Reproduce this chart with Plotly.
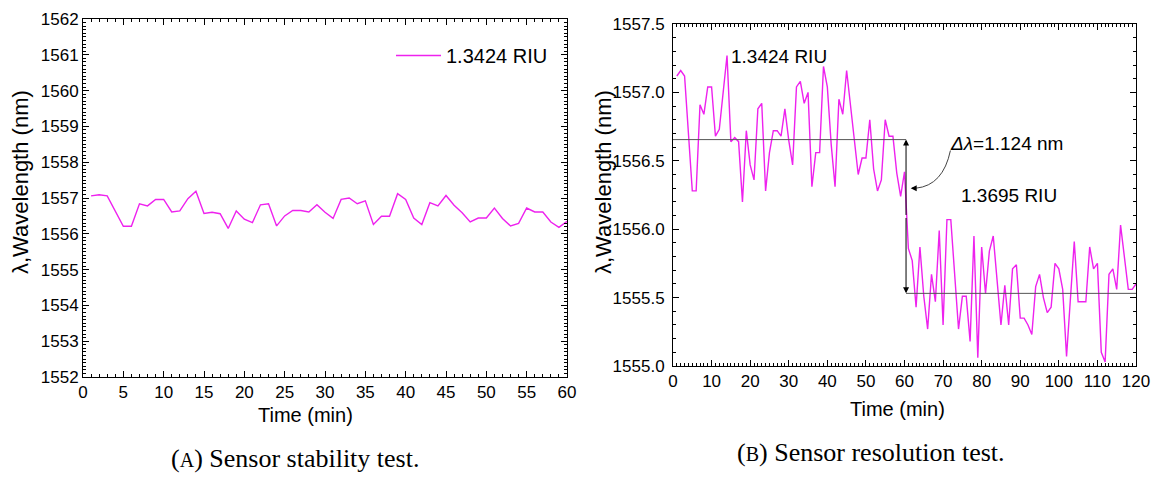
import plotly.graph_objects as go

# ---------------- data ----------------
# (A) stability test: time (min) and wavelength (nm)
t_a = [1, 2, 3, 5, 6, 7, 8, 9, 10, 11, 12, 13, 14, 15, 16, 17, 18, 19, 20,
       21, 22, 23, 24, 25, 26, 27, 28, 29, 30, 31, 32, 33, 34, 35, 36, 37, 38,
       39, 40, 41, 42, 43, 44, 45, 46, 47, 48, 49, 50, 51, 52, 53, 54, 55, 56,
       57, 58, 59, 60]
w_a = [1557.06, 1557.09, 1557.06, 1556.21, 1556.21, 1556.84, 1556.78, 1556.96,
       1556.96, 1556.61, 1556.64, 1556.98, 1557.19, 1556.57, 1556.60, 1556.56,
       1556.15, 1556.64, 1556.41, 1556.31, 1556.81, 1556.84, 1556.22, 1556.50,
       1556.65, 1556.65, 1556.61, 1556.81, 1556.60, 1556.43, 1556.96, 1557.00,
       1556.84, 1556.92, 1556.26, 1556.49, 1556.49, 1557.12, 1556.96, 1556.44,
       1556.26, 1556.87, 1556.78, 1557.07, 1556.80, 1556.59, 1556.33, 1556.44,
       1556.44, 1556.72, 1556.43, 1556.22, 1556.29, 1556.72, 1556.61, 1556.61,
       1556.33, 1556.18, 1556.35]

# (B) resolution test
t_b = [1, 2, 3, 5, 6, 7, 8, 9, 10, 11, 12, 14, 15, 16, 17, 18, 19, 20, 21, 22,
       23, 24, 25, 26, 27, 28, 29, 30, 31, 32, 33, 34, 35, 36, 37, 38, 39, 40,
       41, 42, 43, 44, 45, 46, 47, 48, 49, 50, 51, 52, 53, 54, 55, 56, 57, 58,
       59, 60, 61, 62, 63, 64, 65, 66, 67, 68, 69, 70, 71, 72, 74, 75, 76, 77,
       78, 79, 80, 81, 82, 83, 85, 86, 87, 88, 89, 90, 91, 92, 93, 94, 95, 96,
       97, 98, 99, 100, 101, 102, 104, 105, 107, 108, 109, 110, 111, 112, 113,
       114, 115, 116, 118, 119, 120]
w_b = [1557.12, 1557.16, 1557.12, 1556.28, 1556.28, 1556.91, 1556.84, 1557.04,
       1557.04, 1556.68, 1556.73, 1557.27, 1556.64, 1556.67, 1556.64, 1556.20,
       1556.72, 1556.47, 1556.36, 1556.88, 1556.92, 1556.28, 1556.56, 1556.72,
       1556.72, 1556.68, 1556.88, 1556.65, 1556.47, 1557.04, 1557.08, 1556.92,
       1557.00, 1556.31, 1556.56, 1556.56, 1557.19, 1557.04, 1556.62, 1556.31,
       1556.95, 1556.84, 1557.16, 1556.90, 1556.67, 1556.40, 1556.52, 1556.52,
       1556.80, 1556.44, 1556.28, 1556.36, 1556.80, 1556.68, 1556.68, 1556.41,
       1556.24, 1556.42, 1555.86, 1555.77, 1555.43, 1555.87, 1555.51, 1555.27,
       1555.67, 1555.47, 1555.99, 1555.30, 1556.07, 1556.07, 1555.27, 1555.51,
       1555.51, 1555.18, 1555.95, 1555.06, 1555.87, 1555.53, 1555.84, 1555.95,
       1555.30, 1555.59, 1555.30, 1555.71, 1555.74, 1555.35, 1555.35, 1555.30,
       1555.23, 1555.58, 1555.67, 1555.50, 1555.39, 1555.43, 1555.75, 1555.71,
       1555.56, 1555.07, 1555.91, 1555.47, 1555.47, 1555.87, 1555.71, 1555.75,
       1555.10, 1555.03, 1555.67, 1555.71, 1555.56, 1556.03, 1555.56, 1555.56,
       1555.60]

level_hi = 1556.655      # mean level at 1.3424 RIU
level_lo = 1555.531      # mean level at 1.3695 RIU
t_step = 60.4            # time of the index change
label_a = "1.3424 RIU"
label_b = "1.3695 RIU"
delta_text = "<i>Δλ</i>=1.124 nm"

# ---------------- layout helpers ----------------
W, H = 1162, 477
def px(x):
    return x / W
def py(y):
    return 1 - y / H

LINE_COLOR = "#EE22EE"
FONT = "Liberation Sans"

fig = go.Figure()
fig.add_trace(go.Scatter(x=t_a, y=w_a, mode="lines", name=label_a,
                         line=dict(color=LINE_COLOR, width=1.4),
                         xaxis="x", yaxis="y", showlegend=True))
fig.add_trace(go.Scatter(x=t_b, y=w_b, mode="lines", name=label_b,
                         line=dict(color=LINE_COLOR, width=1.4),
                         xaxis="x2", yaxis="y2", showlegend=False))

axis_common = dict(showline=True, linecolor="black", linewidth=1, mirror="allticks",
                   ticks="inside", ticklen=6, tickcolor="black", tickwidth=1,
                   showgrid=False, zeroline=False, automargin=False,
                   tickfont=dict(family=FONT, size=17, color="black"))

fig.update_layout(
    width=W, height=H, margin=dict(l=0, r=0, t=0, b=0),
    paper_bgcolor="white", plot_bgcolor="white",
    font=dict(family=FONT, color="black"),
    xaxis=dict(domain=[px(83), px(567)], range=[0, 60], dtick=5, anchor="y",
               minor=dict(ticks="inside", ticklen=3, dtick=1, tickcolor="black"),
               **axis_common),
    yaxis=dict(domain=[py(377), py(19)], range=[1552, 1562], dtick=1, anchor="x",
               minor=dict(ticks="inside", ticklen=3, dtick=0.1, tickcolor="black"),
               **axis_common),
    xaxis2=dict(domain=[px(673), px(1136)], range=[0, 120], dtick=10, anchor="y2",
                minor=dict(ticks="inside", ticklen=3, dtick=1, tickcolor="black"),
                **axis_common),
    yaxis2=dict(domain=[py(366), py(24)], range=[1555, 1557.5], dtick=0.5,
                tickformat=".1f", anchor="x2", ticklabelstandoff=4,
                minor=dict(ticks="inside", ticklen=3, dtick=0.1, tickcolor="black"),
                **axis_common),
    legend=dict(x=px(391), y=py(36), xanchor="left", yanchor="top",
                bgcolor="rgba(0,0,0,0)", font=dict(family=FONT, size=20),
                itemwidth=45),
)

# reference level lines (right panel)
fig.add_shape(type="line", xref="x2", yref="y2", x0=0, x1=t_step,
              y0=level_hi, y1=level_hi, line=dict(color="#555555", width=1))
fig.add_shape(type="line", xref="x2", yref="y2", x0=t_step, x1=120,
              y0=level_lo, y1=level_lo, line=dict(color="#555555", width=1))

# vertical double arrow
mid = (level_hi + level_lo) / 2
for target in (level_hi, level_lo):
    fig.add_annotation(xref="x2", yref="y2", axref="x2", ayref="y2",
                       x=t_step, y=target, ax=t_step, ay=mid, text="",
                       showarrow=True, arrowhead=2, arrowsize=1.2, arrowwidth=1,
                       arrowcolor="black", standoff=0)

# curved pointer from the delta label
fig.add_shape(type="path", xref="x2", yref="y2",
              path="M 71.9,1556.575 Q 70.0,1556.32 63.0,1556.30",
              line=dict(color="#444444", width=1))
fig.add_annotation(xref="x2", yref="y2", axref="x2", ayref="y2",
                   x=61.6, y=1556.30, ax=63.2, ay=1556.30, text="",
                   showarrow=True, arrowhead=2, arrowsize=1.2, arrowwidth=1,
                   arrowcolor="black", standoff=0)

txt_font = dict(family=FONT, size=19, color="black")
fig.add_annotation(xref="x2", yref="y2", x=14.6, y=1557.26, text=label_a,
                   showarrow=False, xanchor="left", yanchor="middle", font=txt_font)
fig.add_annotation(xref="x2", yref="y2", x=71.3, y=1556.63, text=delta_text,
                   showarrow=False, xanchor="left", yanchor="middle", font=txt_font)
fig.add_annotation(xref="x2", yref="y2", x=74.0, y=1556.25, text=label_b,
                   showarrow=False, xanchor="left", yanchor="middle", font=txt_font)

# axis titles
title_font = dict(family=FONT, size=20, color="black")
ytitle = "λ,Wavelength (nm)"
ytitle_font = dict(family=FONT, size=22, color="black")
for xc in (20, 603):
    fig.add_annotation(xref="paper", yref="paper", x=px(xc), y=py(182), text=ytitle,
                       textangle=-90, showarrow=False, xanchor="center", yanchor="middle",
                       font=ytitle_font)
fig.add_annotation(xref="paper", yref="paper", x=px(305), y=py(415), text="Time (min)",
                   showarrow=False, xanchor="center", yanchor="middle", font=title_font)
fig.add_annotation(xref="paper", yref="paper", x=px(897), y=py(409), text="Time (min)",
                   showarrow=False, xanchor="center", yanchor="middle", font=title_font)

# captions
cap_font = dict(family="Liberation Serif", size=26, color="black")
fig.add_annotation(xref="paper", yref="paper", x=px(295), y=py(458),
                   text='(<span style="font-size:20px">A</span>) Sensor stability test.',
                   showarrow=False, xanchor="center", yanchor="middle", font=cap_font)
fig.add_annotation(xref="paper", yref="paper", x=px(871), y=py(452),
                   text='(<span style="font-size:20px">B</span>) Sensor resolution test.',
                   showarrow=False, xanchor="center", yanchor="middle", font=cap_font)

fig.write_html("out.html")
